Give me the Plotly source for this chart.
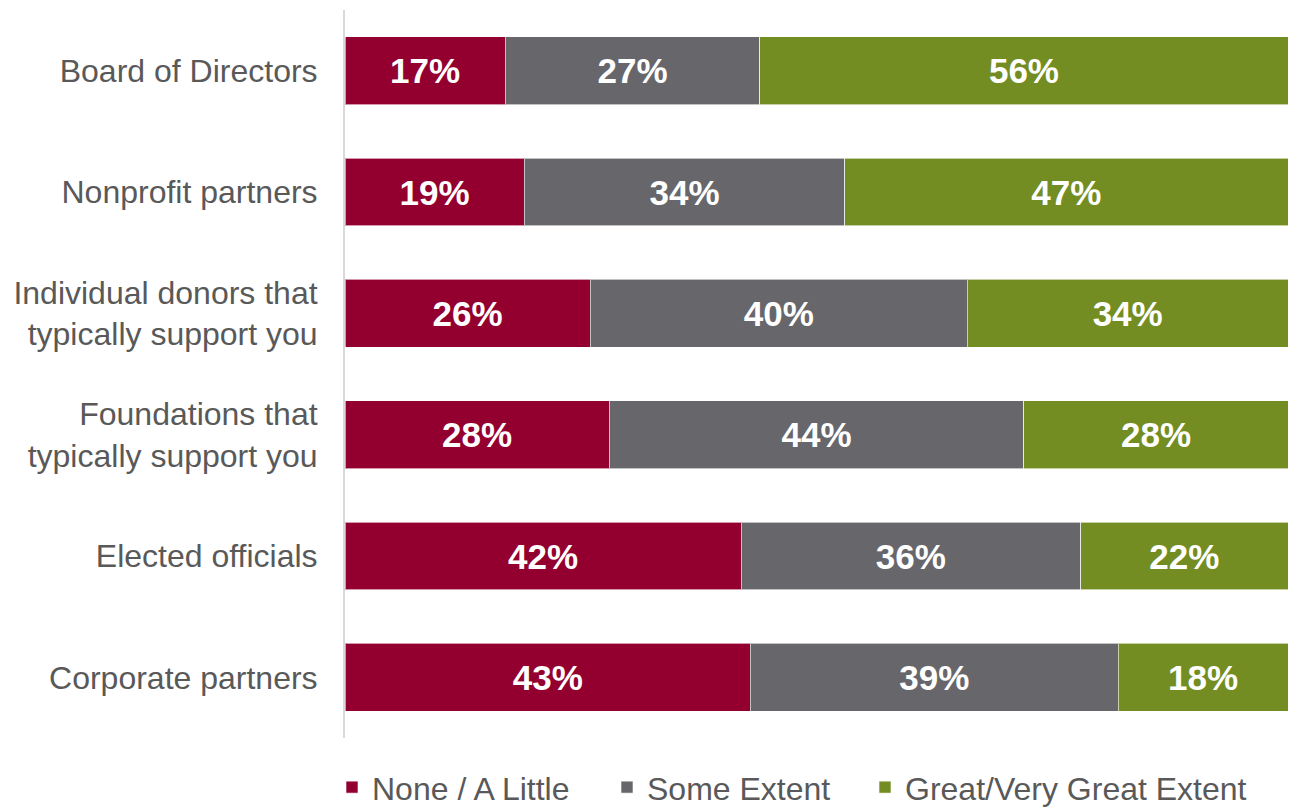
import plotly.graph_objects as go

# Stakeholder groups (top to bottom) and response shares in percent
groups = [
    "Board of Directors",
    "Nonprofit partners",
    "Individual donors that<br>typically support you",
    "Foundations that<br>typically support you",
    "Elected officials",
    "Corporate partners",
]
none_little = [17, 19, 26, 28, 42, 43]
some_extent = [27, 34, 40, 44, 36, 39]
great_extent = [56, 47, 34, 28, 22, 18]

series = [
    ("None / A Little", none_little, "#930030"),
    ("Some Extent", some_extent, "#67666B"),
    ("Great/Very Great Extent", great_extent, "#738D22"),
]

FONT = "Liberation Sans, Arial, sans-serif"
W, H = 1293, 807
LEFT, RIGHT, TOP, BOTTOM = 345, 5, 10, 69
PLOT_W = W - LEFT - RIGHT

# each series gets its own legend box, placed side by side under the chart
legend_ids = ["legend", "legend2", "legend3"]
legend_left_px = [332, 607, 865]

fig = go.Figure()
for (name, vals, color), lid in zip(series, legend_ids):
    fig.add_trace(go.Bar(
        y=groups,
        x=vals,
        name=name,
        orientation="h",
        legend=lid,
        showlegend=True,
        marker=dict(color=color, line=dict(color="rgba(255,255,255,0.6)", width=1)),
        text=[f"{v}%" for v in vals],
        textposition="inside",
        insidetextanchor="middle",
        textangle=0,
        textfont=dict(family=FONT, size=35, color="white", weight="bold"),
        hoverinfo="skip",
    ))

legend_style = dict(
    orientation="h",
    xanchor="left",
    y=-0.030,
    yanchor="top",
    font=dict(family=FONT, size=32, color="#595959"),
    itemclick=False,
    bgcolor="rgba(0,0,0,0)",
)

fig.update_layout(
    showlegend=True,
    barmode="stack",
    bargap=0.44,
    width=W,
    height=H,
    margin=dict(l=LEFT, r=RIGHT, t=TOP, b=BOTTOM, autoexpand=False),
    plot_bgcolor="white",
    paper_bgcolor="white",
    uniformtext=dict(minsize=35, mode="show"),
    font=dict(family=FONT, color="#595959"),
    xaxis=dict(range=[0, 100], visible=False, fixedrange=True),
    yaxis=dict(
        autorange="reversed",
        showline=True,
        linecolor="#D9D9D9",
        linewidth=2,
        showgrid=False,
        ticks="",
        ticklabelstandoff=19,
        tickfont=dict(family=FONT, size=32, color="#595959"),
    ),
)

for lid, px in zip(legend_ids, legend_left_px):
    fig.update_layout({lid: dict(legend_style, x=(px - LEFT) / PLOT_W)})

fig.write_html("out.html")
